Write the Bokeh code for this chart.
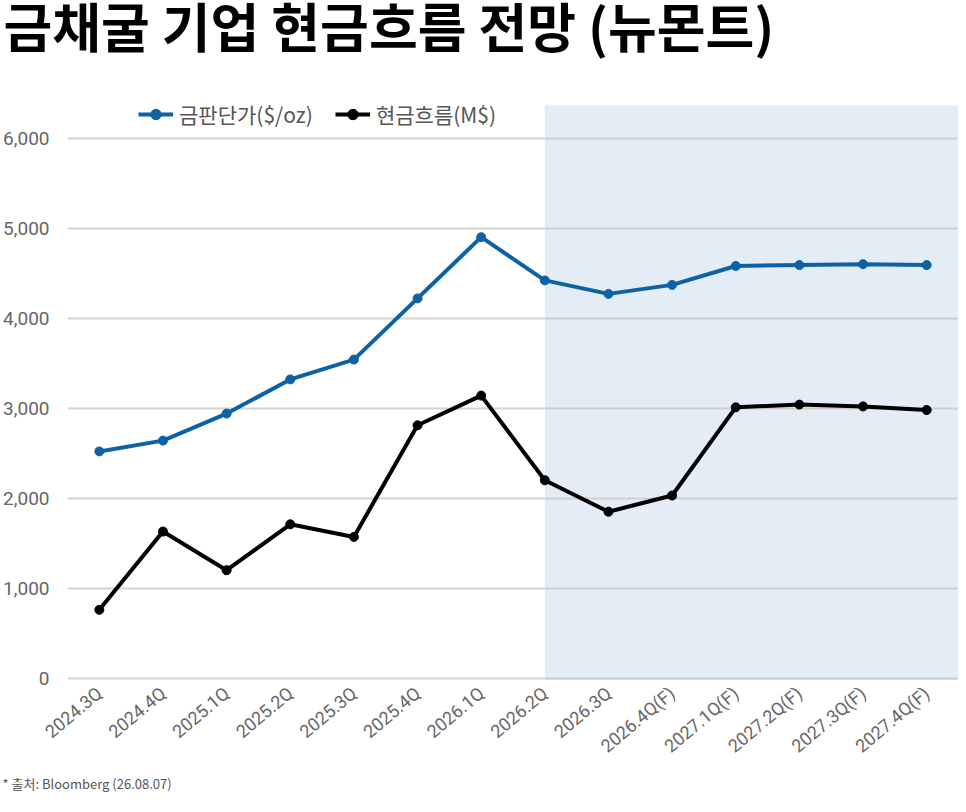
import math
from bokeh.plotting import figure
from bokeh.layouts import column
from bokeh.models import (FactorRange, Range1d, BoxAnnotation, Legend, LegendItem,
                          Title, NumeralTickFormatter, FixedTicker)
from bokeh.embed import file_html
from bokeh.resources import INLINE

quarters = ["2024.3Q", "2024.4Q", "2025.1Q", "2025.2Q", "2025.3Q", "2025.4Q", "2026.1Q",
            "2026.2Q", "2026.3Q", "2026.4Q(F)", "2027.1Q(F)", "2027.2Q(F)", "2027.3Q(F)", "2027.4Q(F)"]
gold_price = [2520, 2640, 2940, 3320, 3540, 4220, 4900, 4420, 4270, 4370, 4580, 4590, 4600, 4590]
cash_flow = [760, 1630, 1200, 1710, 1570, 2810, 3140, 2200, 1850, 2030, 3010, 3040, 3020, 2980]
y_ticks = [0, 1000, 2000, 3000, 4000, 5000, 6000]
shade_from = "2026.2Q"
shade_top = 6364

title_text = "금채굴 기업 현금흐름 전망 (뉴몬트)"
source_text = "* 출처: Bloomberg (26.08.07)"
gold_name = "금판단가($/oz)"
cash_name = "현금흐름(M$)"

KFONT = "Noto Sans CJK KR"
W = 958
TH = 85

# ---- title strip ----
t = figure(width=W, height=TH, x_range=Range1d(0, 1), y_range=Range1d(0, 1),
           output_backend="svg", toolbar_location=None,
           x_axis_location=None, y_axis_location=None,
           min_border_left=63, min_border_right=0, min_border_top=0, min_border_bottom=0)
t.grid.grid_line_color = None
t.outline_line_color = None
t.border_fill_color = "white"
t.background_fill_color = "white"
t.title = Title(text=title_text, text_font=KFONT, text_font_size="53px",
                text_font_style="bold", text_color="black", align="left",
                offset=-64, standoff=-32)

# ---- main chart ----
p = figure(width=W, height=796 - TH, x_range=FactorRange(*quarters), y_range=Range1d(-25, 6585),
           output_backend="svg", toolbar_location=None,
           min_border_left=63, min_border_right=0, min_border_top=0, min_border_bottom=112)
p.outline_line_color = None
p.background_fill_color = "white"
p.border_fill_color = "white"
p.x_range.range_padding = 0

p.add_layout(Title(text=source_text, text_font=KFONT, text_font_size="13px",
                   text_font_style="normal", text_color="#555555", align="left",
                   offset=-65, standoff=8), "below")

# forecast shading
idx = quarters.index(shade_from)
shade = BoxAnnotation(left=idx + 0.5, top=shade_top, fill_color="#e4ecf5", fill_alpha=1.0,
                      line_color=None, level="image")
p.add_layout(shade)

# grid
p.xgrid.grid_line_color = None
p.ygrid.grid_line_color = "#c8c8c8"
p.ygrid.grid_line_width = 2
p.ygrid.grid_line_alpha = 0.8
p.yaxis.ticker = FixedTicker(ticks=y_ticks)

# axes
p.yaxis.formatter = NumeralTickFormatter(format="0,0")
p.yaxis.axis_line_color = None
p.yaxis.major_tick_line_color = None
p.yaxis.minor_tick_line_color = None
p.yaxis.major_label_text_font = "Roboto"
p.yaxis.major_label_text_font_size = "19px"
p.yaxis.major_label_text_color = "#666666"
p.yaxis.major_label_standoff = 12

p.xaxis.axis_line_color = None
p.xaxis.major_tick_line_color = None
p.xaxis.minor_tick_line_color = None
p.xaxis.major_label_orientation = 0.70
p.xaxis.major_label_text_font = "Roboto"
p.xaxis.major_label_text_font_size = "18px"
p.xaxis.major_label_text_color = "#666666"
p.xaxis.major_label_standoff = 4

blue = "#0d62a6"
l1 = p.line(quarters, gold_price, line_color=blue, line_width=4)
s1 = p.scatter(quarters, gold_price, size=9, fill_color=blue, line_color=blue)
l2 = p.line(quarters, cash_flow, line_color="black", line_width=4)
s2 = p.scatter(quarters, cash_flow, size=9, fill_color="black", line_color="black")

legend = Legend(items=[LegendItem(label=gold_name, renderers=[l1, s1]),
                       LegendItem(label=cash_name, renderers=[l2, s2])],
                orientation="horizontal", location=(71, 551),
                label_text_font=KFONT, label_text_font_size="21px", label_text_color="#555555",
                glyph_width=35, glyph_height=26, label_height=26, label_standoff=6, spacing=22,
                padding=0, margin=0, background_fill_alpha=0, border_line_color=None)
p.add_layout(legend, "center")

layout = column(t, p, spacing=0)
open("out.html", "w").write(file_html(layout, INLINE))
